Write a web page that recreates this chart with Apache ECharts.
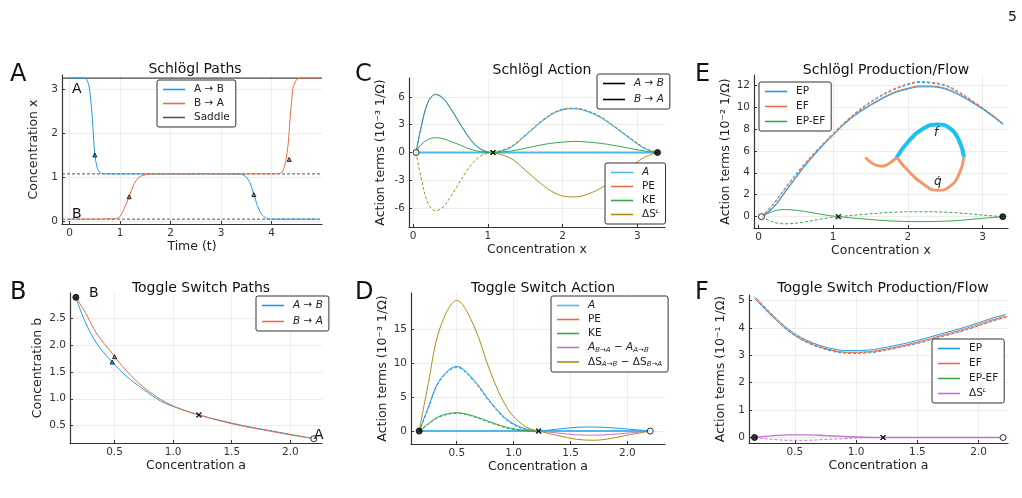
<!DOCTYPE html>
<html><head><meta charset="utf-8">
<script src="https://cdn.jsdelivr.net/npm/echarts@6/dist/echarts.min.js"></script>
<style>html,body{margin:0;background:#fff}#c{width:1022px;height:498px}</style></head>
<body><div id="c"></div>
<script>
// ---------- data ----------
// Panel A (Schlögl paths)
const tAB=[0,0.3,0.38,0.44,0.5,0.55,0.6,0.68,0.8,1,2,3,3.4,3.5,3.58,3.65,3.72,3.8,3.9,4.0,4.9];
const xAB=[3.25,3.25,3.1,2.5,1.5,1.2,1.1,1.075,1.07,1.07,1.07,1.07,1.06,1.0,0.85,0.6,0.35,0.15,0.06,0.04,0.04];
const tBA=[0,0.9,1.0,1.08,1.18,1.28,1.38,1.5,1.7,2,3,4,4.2,4.27,4.33,4.38,4.43,4.5,4.6,4.9];
const xBA=[0.04,0.05,0.1,0.28,0.55,0.85,1.0,1.05,1.07,1.07,1.07,1.07,1.1,1.3,1.75,2.5,3.05,3.22,3.25,3.25];
// Panel C (Schlögl action)
const xC1=[0.04,0.1,0.2,0.3,0.4,0.5,0.6,0.7,0.8,0.9,1.0,1.07];
const peC1=[0,2.5,5.5,6.3,5.9,4.8,3.5,2.2,1.1,0.4,0.08,0];
const keC1=[0,0.8,1.4,1.6,1.5,1.2,0.9,0.55,0.28,0.1,0.02,0];
const xC2=[1.07,1.3,1.5,1.7,1.9,2.1,2.17,2.3,2.5,2.7,2.9,3.1,3.27];
const peC2=[0,0.6,1.9,3.3,4.4,4.8,4.8,4.6,3.9,2.8,1.6,0.5,0];
const keC2=[0,0.15,0.45,0.8,1.05,1.18,1.2,1.15,1.0,0.75,0.45,0.15,0];
// Panel E (Schlögl production/flow)
const xE=[0.04,0.2,0.4,0.6,0.8,1.0,1.2,1.4,1.6,1.8,2.0,2.15,2.3,2.5,2.7,2.9,3.1,3.27];
const epE1=[0,1.2,3.0,4.7,6.2,7.6,8.9,10.0,10.9,11.6,12.1,12.3,12.25,12.0,11.3,10.4,9.4,8.5];
const epE2=[0,0.9,2.7,4.5,6.1,7.5,8.8,9.8,10.6,11.3,11.7,11.9,11.9,11.7,11.1,10.3,9.4,8.5];
const xEg=[0.04,0.2,0.35,0.6,0.85,1.07,1.4,1.8,2.2,2.6,3.0,3.27];
const gE=[0,0.5,0.65,0.5,0.2,0,-0.2,-0.4,-0.45,-0.38,-0.15,0];
const fX=[1.85,2.0,2.2,2.4,2.55,2.68,2.75];
const fY=[5.4,6.8,8.0,8.4,8.1,7.0,5.4];
const qX1=[1.43,1.55,1.65,1.75,1.85];
const qY1=[5.4,4.75,4.6,4.85,5.4];
const qX2=[1.85,2.0,2.2,2.4,2.55,2.68,2.75];
const qY2=[5.4,4.2,3.0,2.4,2.7,3.8,5.4];
// Panel B (toggle paths)
const aB=[0.17,0.25,0.35,0.48,0.6,0.75,0.9,1.05,1.22,1.4,1.6,1.8,2.0,2.2];
const bAB=[2.88,2.42,2.02,1.68,1.42,1.17,0.95,0.82,0.7,0.6,0.5,0.42,0.34,0.26];
const bBA=[2.88,2.6,2.2,1.84,1.52,1.21,0.98,0.82,0.7,0.59,0.49,0.41,0.33,0.26];
// Panel D (toggle action)
const xD1=[0.17,0.25,0.35,0.5,0.65,0.8,0.95,1.1,1.22];
const aD1=[0,3.5,7.5,9.5,7.5,4.2,1.6,0.35,0];
const keD1=[0,1.1,2.2,2.7,2.2,1.3,0.5,0.1,0];
const dsD1=[0,7,15,19.2,15.5,8.5,3.2,0.7,0];
const xD2=[1.22,1.4,1.55,1.7,1.85,2.0,2.2];
const aD2=[0,0.3,0.55,0.6,0.5,0.3,0];
const dsD2=[0,-0.7,-1.2,-1.35,-1.1,-0.6,0];
// Panel F (toggle production/flow)
const xF=[0.17,0.3,0.45,0.6,0.8,0.95,1.1,1.3,1.5,1.7,1.9,2.1,2.22];
const epF=[5.1,4.5,3.9,3.5,3.2,3.13,3.15,3.3,3.5,3.75,4.0,4.3,4.45];
const xFs=[0.17,0.3,0.45,0.6,0.75,0.9,1.05,1.22,1.7,2.2];
const dsF=[0,0.06,0.1,0.1,0.07,0.04,0.01,0,0,0];

// ---------- helpers ----------
const BL='#1f9be6',RD='#e3704a',GR='#3ea44e',PU='#c271d2',GO='#ac8d18',FONT='DejaVu Sans';
const Z=(xs,ys,dx=0,dy=0)=>xs.map((x,i)=>[x+dx,ys[i]+dy]);
const neg=a=>a.map(v=>-v);
const series=[];
function L(g,data,color,o={}){series.push(Object.assign({type:'line',xAxisIndex:g,yAxisIndex:g,data,symbol:'none',showSymbol:false,smooth:0.35,
 lineStyle:{color,width:o.w||1,type:o.dash?[3,2]:'solid'},itemStyle:{color},silent:true,z:o.z||2},o.extra||{}));}
function P(g,pts,sym,fill,size){series.push({type:'scatter',xAxisIndex:g,yAxisIndex:g,data:pts,symbol:sym,symbolSize:size||6,
 itemStyle:{color:fill,borderColor:'#000',borderWidth:1},z:5,silent:true});}
const XS='path://M0,1L1,0L5,4L9,0L10,1L6,5L10,9L9,10L5,6L1,10L0,9L4,5Z';
const grids=[
 {left:62,top:75,width:260,height:149},
 {left:409,top:78,width:256,height:149},
 {left:754,top:75,width:254,height:153},
 {left:70,top:293,width:252,height:150},
 {left:411,top:293,width:254,height:151},
 {left:749,top:295,width:259,height:148}];
const ax=[
 {x:[-0.15,5],xv:[0,1,2,3,4],y:[-0.07,3.32],yv:[0,1,2,3],xn:'Time (t)',yn:'Concentration x'},
 {x:[-0.055,3.37],xv:[0,1,2,3],y:[-8.05,8.05],yv:[-6,-3,0,3,6],xn:'Concentration x',yn:'Action terms (10⁻³ 1/Ω)'},
 {x:[-0.06,3.34],xv:[0,1,2,3],y:[-1.03,12.9],yv:[0,2,4,6,8,10,12],xn:'Concentration x',yn:'Action terms (10⁻² 1/Ω)'},
 {x:[0.12,2.27],xv:[0.5,1,1.5,2],y:[0.18,2.96],yv:[0.5,1,1.5,2,2.5],xn:'Concentration a',yn:'Concentration b',f:1},
 {x:[0.098,2.33],xv:[0.5,1,1.5,2],y:[-1.9,20.3],yv:[0,5,10,15],xn:'Concentration a',yn:'Action terms (10⁻³ 1/Ω)',f:1},
 {x:[0.125,2.24],xv:[0.5,1,1.5,2],y:[-0.2,5.2],yv:[0,1,2,3,4,5],xn:'Concentration a',yn:'Action terms (10⁻¹ 1/Ω)',f:1}];
const mk=(i,dim)=>{const a=ax[i],r=a[dim],vals=a[dim+'v'];return {type:'value',gridIndex:i,min:r[0],max:r[1],
 name:a[dim+'n'],nameLocation:'middle',nameGap:dim==='x'?15:(i===3?26:22),nameTextStyle:{fontFamily:FONT,fontSize:12.5,color:'#222'},
 axisLine:{show:true,onZero:false,lineStyle:{color:'#333',width:1.2}},
 axisTick:{show:true,inside:true,length:3,customValues:vals,lineStyle:{color:'#333'}},
 axisLabel:{customValues:vals,fontFamily:FONT,fontSize:10.5,color:'#333',margin:4,
   formatter:v=>(a.f&&dim==='x')||(i===3)?v.toFixed(1):String(Math.round(v*100)/100)},
 splitLine:{show:true,lineStyle:{color:'#ececec'}}};};
const xAxis=grids.map((g,i)=>mk(i,'x')), yAxis=grids.map((g,i)=>mk(i,'y'));

// A
L(0,[[-0.15,3.25],[5,3.25]],'#444',{w:1.2,extra:{smooth:false}});
L(0,[[-0.15,1.07],[5,1.07]],'#555',{dash:1,extra:{smooth:false,name:'Saddle'}});
L(0,[[-0.15,0.04],[5,0.04]],'#555',{dash:1,extra:{smooth:false}});
L(0,Z(tAB,xAB),BL,{extra:{name:'A → B',smooth:0.2}});
L(0,Z(tBA,xBA),RD,{extra:{name:'B → A',smooth:0.2}});
P(0,[[0.5,1.5],[3.65,0.6]],'triangle',BL,4);P(0,[[1.18,0.55],[4.35,1.4]],'triangle',RD,4);
// C
L(1,[[0.04,0],[1.07,0],[3.27,0]],'#4fb8f0',{w:2,extra:{name:'𝒜c',smooth:false}});
L(1,Z(xC1,peC1),GO,{}); L(1,Z(xC1,peC1,0,-0.05),BL,{});
L(1,Z(xC1,neg(peC1)),GO,{dash:1});
L(1,Z(xC2,peC2),GO,{dash:1}); L(1,Z(xC2,peC2,0,-0.08),BL,{});
L(1,Z(xC2,neg(peC2)),GO,{extra:{name:'ΔSc'}});
L(1,Z(xC1,keC1),GR,{extra:{name:'KEc'}}); L(1,Z(xC2,keC2),GR,{});
L(1,[],RD,{extra:{name:'PEc'}});
L(1,[],'#000',{extra:{name:'A→B'}}); L(1,[],'#000',{dash:1,extra:{name:'B→A'}});
P(1,[[0.04,0]],'circle','#fff',6);P(1,[[1.07,0]],XS,'#000',5);P(1,[[3.27,0]],'circle','#000',6);
// E
L(2,Z(xE,epE1),RD,{dash:1}); L(2,Z(xE,epE1,0,-0.08),BL,{dash:1});
L(2,Z(xE,epE2),RD,{extra:{name:'EF'}}); L(2,Z(xE,epE2,0,-0.08),BL,{extra:{name:'EP'}});
L(2,Z(xEg,gE),GR,{extra:{name:'EP-EF'}}); L(2,Z(xEg,neg(gE)),GR,{dash:1});
L(2,Z(fX,fY),'#1ec0f2',{w:4,extra:{smooth:0.5}});
L(2,Z(qX1,qY1),'#f39a6c',{w:3,extra:{smooth:0.5}}); L(2,Z(qX2,qY2),'#f39a6c',{w:3,extra:{smooth:0.5}});
P(2,[[0.04,0]],'circle','#fff',6);P(2,[[1.07,0]],XS,'#000',5);P(2,[[3.27,0]],'circle','#000',6);
// B
L(3,Z(aB,bAB),BL,{extra:{name:'A→Bb'}}); L(3,Z(aB,bBA),RD,{extra:{name:'B→Ab'}});
P(3,[[0.48,1.68]],'triangle',BL,4);P(3,[[0.5,1.78]],'triangle',RD,4);
P(3,[[0.17,2.88]],'circle','#000',6);P(3,[[1.22,0.7]],XS,'#000',5);P(3,[[2.2,0.26]],'circle','#fff',6);
// D
L(4,[[0.17,0],[2.2,0]],'#4fb8f0',{w:2,extra:{smooth:false,name:'𝒜d'}});
L(4,Z(xD1,aD1),BL,{}); L(4,Z(xD1,aD1,0,-0.15),BL,{dash:1});
L(4,Z(xD1,keD1),GR,{extra:{name:'KEd'}}); L(4,Z(xD1,keD1,0,-0.1),GR,{dash:1});
L(4,Z(xD1,dsD1),GO,{extra:{name:'dsd'}});
L(4,Z(xD2,aD2),BL,{}); L(4,Z(xD2,neg(aD2)),PU,{extra:{name:'madd'}});
L(4,Z(xD2,dsD2),GO,{});
L(4,[],RD,{extra:{name:'PEd'}});
P(4,[[0.17,0]],'circle','#000',6);P(4,[[1.22,0]],XS,'#000',5);P(4,[[2.2,0]],'circle','#fff',6);
// F
L(5,Z(xF,epF,0,0.04),BL,{extra:{name:'EPf'}}); L(5,Z(xF,epF,0,-0.02),RD,{extra:{name:'EFf'}});
L(5,Z(xF,epF,0.01,-0.06),BL,{dash:1}); L(5,Z(xF,epF,0.02,-0.03),RD,{dash:1});
L(5,[],GR,{extra:{name:'EP-EFf'}});
L(5,Z(xFs,dsF),PU,{w:1.3,extra:{name:'dSf'}}); L(5,Z(xFs,neg(dsF)),PU,{dash:1});
P(5,[[0.17,0]],'circle','#000',6);P(5,[[1.22,0]],XS,'#000',5);P(5,[[2.2,0]],'circle','#fff',6);

// ---------- titles ----------
const T=(text,left,top,size,c)=>({text,left,top,textAlign:c?'center':'left',textStyle:{fontFamily:FONT,fontSize:size,fontWeight:'normal',color:'#111'}});
const title=[
 T('Schlögl Paths',190,57,14,1),T('Schlögl Action',537,58,14,1),T('Schlögl Production/Flow',881,58,14,1),
 T('Toggle Switch Paths',196,276,14,1),T('Toggle Switch Action',538,276,14,1),T('Toggle Switch Production/Flow',878,276,14,1),
 T('A',5,58,24),T('C',350,58,24),T('E',690,58,24),T('B',5,276,24),T('D',350,276,24),T('F',690,276,24),
 T('5',1003,5,14),
 T('A',67,77,14),T('B',67,202,14),T('B',84,281,14),T('A',309,423,14)];
// ---------- legends ----------
const rich={i:{fontStyle:'italic',fontFamily:FONT,fontSize:10.5},s:{fontSize:7,fontStyle:'italic',fontFamily:FONT,verticalAlign:'bottom',padding:[5,0,0,0]},n:{fontFamily:FONT,fontSize:10.5}};
const names={'𝒜c':'{i|A}','𝒜d':'{i|A}','PEc':'PE','PEd':'PE','KEc':'KE','KEd':'KE','ΔSc':'ΔS{i|ᴸ}','dSf':'ΔS{i|ᴸ}',
 'A→B':'{i|A → B}','B→A':'{i|B → A}','A→Bb':'{i|A → B}','B→Ab':'{i|B → A}','EPf':'EP','EFf':'EF','EP-EFf':'EP-EF',
 'madd':'{i|A}{s|B→A} − {i|A}{s|A→B}','dsd':'ΔS{s|A→B} − ΔS{s|B→A}'};
const Lg=(data,left,top,gap)=>({data:data.map(n=>({name:n,icon:'rect'})),left,top,orient:'vertical',itemWidth:22,itemHeight:1.6,itemGap:gap,
 backgroundColor:'#fff',borderColor:'#333',borderWidth:1,borderRadius:2,padding:[4,6,4,6],
 textStyle:{fontFamily:FONT,fontSize:10.5,color:'#222',rich,padding:[0,0,0,4]},formatter:n=>names[n]||n,selectedMode:false});
const legend=[
 Lg(['A → B','B → A','Saddle'],157,80,3),
 Lg(['A→B','B→A'],597,74,5),
 Lg(['𝒜c','PEc','KEc','ΔSc'],605,163,3),
 Lg(['EP','EF','EP-EF'],759,82,4),
 Lg(['A→Bb','B→Ab'],256,296,5),
 Lg(['𝒜d','PEd','KEd','madd','dsd'],551,296,3),
 Lg(['EPf','EFf','EP-EFf','dSf'],932,339,4)];
const chart=echarts.init(document.getElementById('c'),null,{renderer:'canvas'});
chart.setOption({animation:false,backgroundColor:'#fff',title,legend,grid:grids,xAxis,yAxis,series});
chart.setOption({graphic:[
 {type:'text',left:934,top:127,style:{text:'f',font:'italic 12px DejaVu Sans',fill:'#222'}},
 {type:'text',left:934,top:176,style:{text:'q̇',font:'italic 12px DejaVu Sans',fill:'#222'}}]});
</script></body></html>
